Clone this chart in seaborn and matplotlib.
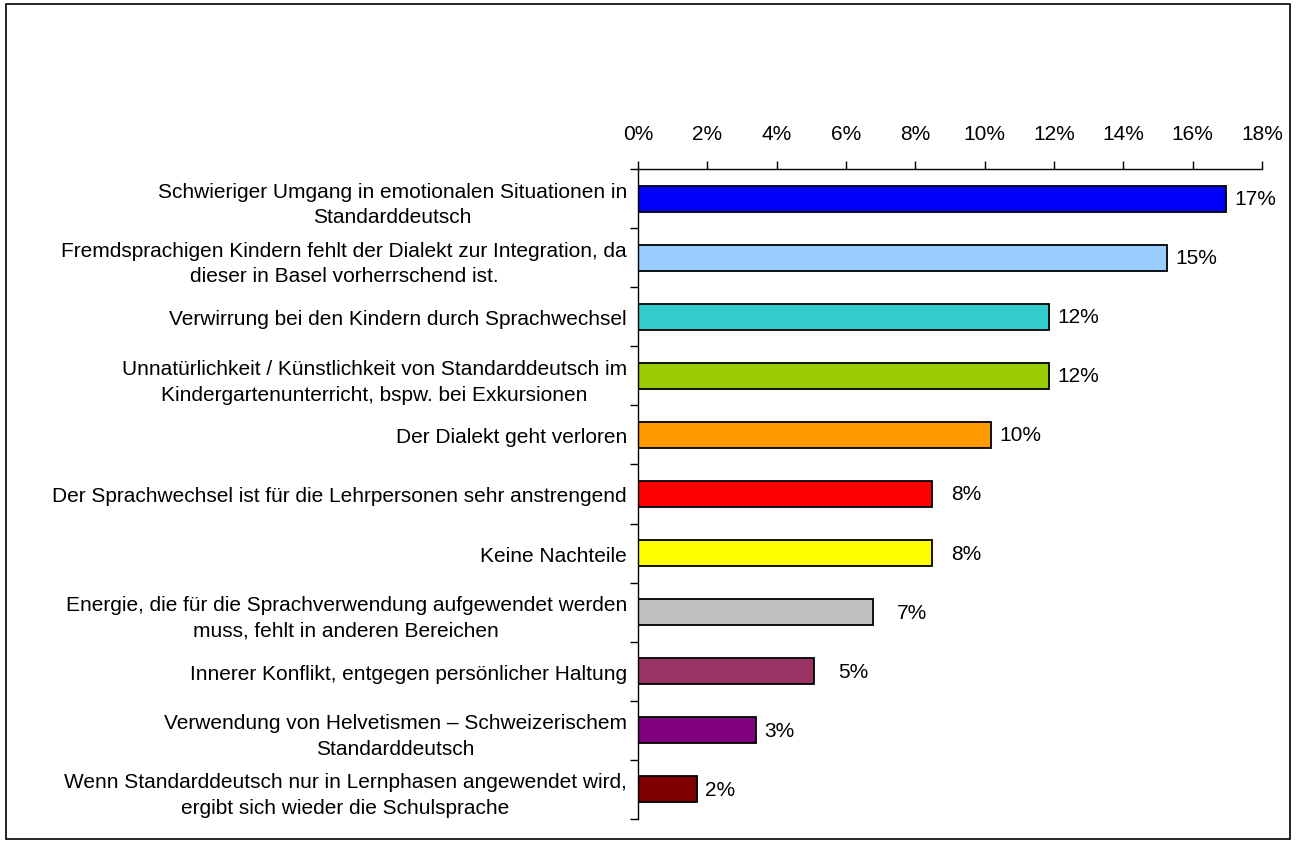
import matplotlib
matplotlib.use("Agg")
import matplotlib.pyplot as plt
import matplotlib.patches as mpatches
from matplotlib.ticker import PercentFormatter
import seaborn as sns
import pandas as pd

categories = [
    "Schwieriger Umgang in emotionalen Situationen in\nStandarddeutsch",
    "Fremdsprachigen Kindern fehlt der Dialekt zur Integration, da\ndieser in Basel vorherrschend ist.",
    "Verwirrung bei den Kindern durch Sprachwechsel",
    "Unnatürlichkeit / Künstlichkeit von Standarddeutsch im\nKindergartenunterricht, bspw. bei Exkursionen",
    "Der Dialekt geht verloren",
    "Der Sprachwechsel ist für die Lehrpersonen sehr anstrengend",
    "Keine Nachteile",
    "Energie, die für die Sprachverwendung aufgewendet werden\nmuss, fehlt in anderen Bereichen",
    "Innerer Konflikt, entgegen persönlicher Haltung",
    "Verwendung von Helvetismen – Schweizerischem\nStandarddeutsch",
    "Wenn Standarddeutsch nur in Lernphasen angewendet wird,\nergibt sich wieder die Schulsprache",
]
shares = [16.95, 15.25, 11.86, 11.86, 10.17, 8.47, 8.47, 6.78, 5.08, 3.39, 1.69]
value_labels = ["17%", "15%", "12%", "12%", "10%", "8%", "8%", "7%", "5%", "3%", "2%"]
colors = ["#0000FF", "#99CCFF", "#33CCCC", "#99CC00", "#FF9900", "#FF0000",
          "#FFFF00", "#C0C0C0", "#993366", "#800080", "#800000"]
# extra shift of some value labels (in % units), as in the original
label_shift = [0, 0, 0, 0, 0, 0.3, 0.3, 0.45, 0.45, 0, 0]

df = pd.DataFrame({"category": categories, "share": shares})

sns.set_style("white")
plt.rcParams["font.family"] = ["Liberation Sans", "DejaVu Sans"]
plt.rcParams["font.size"] = 15
plt.rcParams["text.color"] = "black"
plt.rcParams["xtick.color"] = "black"
plt.rcParams["ytick.color"] = "black"

W, H = 1296, 845
fig = plt.figure(figsize=(W / 100, H / 100), dpi=100)
ax = fig.add_axes([638 / W, 1 - 820 / H, 624 / W, (820 - 170) / H])

sns.barplot(data=df, y="category", x="share", hue="category", palette=colors,
            orient="h", width=0.44, edgecolor="black", linewidth=1.3,
            saturation=1, legend=False, ax=ax)

ax.set_xlim(0, 18)
ax.set_xticks(range(0, 19, 2))
ax.xaxis.set_major_formatter(PercentFormatter(decimals=0))
ax.xaxis.tick_top()
ax.set_xlabel("")
ax.set_ylabel("")
n = len(categories)
ax.set_ylim(n - 0.5, -0.5)
ax.set_yticks([i - 0.5 for i in range(n + 1)])
ax.set_yticklabels([])
ax.set_yticks(range(n), minor=True)
ax.set_yticklabels(categories, minor=True, multialignment="center", linespacing=1.45)
ax.tick_params(axis="y", which="minor", length=0, pad=8)
ax.tick_params(axis="y", which="major", length=6, width=1, direction="out", left=True)
ax.tick_params(axis="x", length=6, width=1, direction="out", top=True, pad=13)

for side in ["right", "bottom"]:
    ax.spines[side].set_visible(False)
for side in ["left", "top"]:
    ax.spines[side].set_color("black")
    ax.spines[side].set_linewidth(1)

for i, (v, lab, s) in enumerate(zip(shares, value_labels, label_shift)):
    ax.text(v + 0.25 + s, i, lab, va="center", ha="left")

fig.patches.append(mpatches.Rectangle((6 / W, 5 / H), 1284 / W, 835 / H,
                                      transform=fig.transFigure, fill=False,
                                      edgecolor="black", linewidth=1.2))

fig.savefig("out.png", dpi=100)
